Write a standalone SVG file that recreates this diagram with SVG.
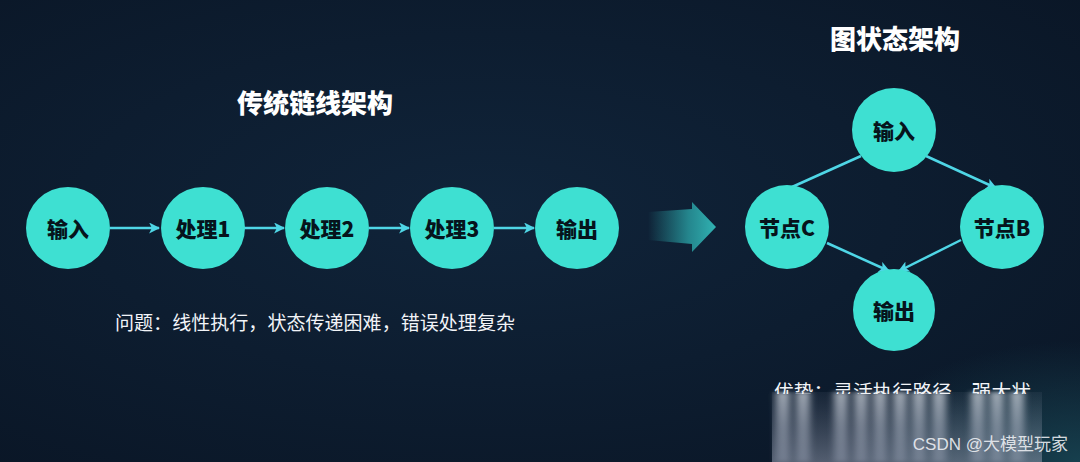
<svg xmlns="http://www.w3.org/2000/svg" width="1080" height="462" viewBox="0 0 1080 462">
<defs>
<radialGradient id="bg" cx="0.45" cy="0.45" r="0.75">
<stop offset="0" stop-color="#10243a"/>
<stop offset="1" stop-color="#0a1626"/>
</radialGradient>
<radialGradient id="glow" cx="1" cy="1" r="0.6">
<stop offset="0" stop-color="#1a4a58" stop-opacity="0.8"/>
<stop offset="1" stop-color="#1a4a58" stop-opacity="0"/>
</radialGradient>
<linearGradient id="bigArrow" x1="0" y1="0" x2="1" y2="0">
<stop offset="0" stop-color="#2aa0a4" stop-opacity="0"/>
<stop offset="0.6" stop-color="#2aa0a4" stop-opacity="0.8"/>
<stop offset="1" stop-color="#31b3b3"/>
</linearGradient>
<linearGradient id="smear" x1="0" y1="0" x2="0" y2="1">
<stop offset="0" stop-color="#e0e6ee" stop-opacity="0.9"/>
<stop offset="0.5" stop-color="#b4bccb" stop-opacity="0.7"/>
<stop offset="1" stop-color="#9aa3b6" stop-opacity="0.6"/>
</linearGradient>
<linearGradient id="haze" x1="0" y1="0" x2="0" y2="1">
<stop offset="0" stop-color="#7c8699" stop-opacity="0.1"/>
<stop offset="1" stop-color="#8e97aa" stop-opacity="0.55"/>
</linearGradient>
<filter id="blur" x="-20%" y="-10%" width="140%" height="120%"><feGaussianBlur stdDeviation="3.5 2"/></filter>
<clipPath id="cut"><rect x="760" y="370" width="300" height="24"/></clipPath>
<marker id="ah" viewBox="0 0 10 10" refX="9" refY="5" markerWidth="11" markerHeight="11" markerUnits="userSpaceOnUse" orient="auto">
<path d="M0,0 L10,5 L0,10 L2.5,5 z" fill="#4fd6e6"/>
</marker>
<style>
.node{fill:#3ee0d2}
.lbl{font-family:"Noto Sans CJK SC","Liberation Sans",sans-serif;font-weight:900;font-size:21px;fill:#06141c;text-anchor:middle;dominant-baseline:central}
.title{font-family:"Noto Sans CJK SC","Liberation Sans",sans-serif;font-weight:900;fill:#ffffff;text-anchor:middle}
.note{font-family:"Noto Sans CJK SC","Liberation Sans",sans-serif;font-size:19px;fill:#f2f4f8}
.edge{stroke:#4fd6e6;stroke-width:2.5;fill:none}
.streak{fill:url(#smear)}
</style>
</defs>
<rect width="1080" height="462" fill="url(#bg)"/>
<rect x="700" y="260" width="380" height="202" fill="url(#glow)"/>

<text class="title" x="315" y="113" font-size="26">传统链线架构</text>
<text class="title" x="895" y="49" font-size="26">图状态架构</text>

<g id="connectors">
<line class="edge" x1="110" y1="228" x2="159" y2="228" marker-end="url(#ah)"/>
<line class="edge" x1="244" y1="228" x2="284" y2="228" marker-end="url(#ah)"/>
<line class="edge" x1="369" y1="228" x2="409" y2="228" marker-end="url(#ah)"/>
<line class="edge" x1="494" y1="228" x2="534" y2="228" marker-end="url(#ah)"/>
<line class="edge" x1="861" y1="156" x2="792" y2="187"/>
<line class="edge" x1="926" y1="156" x2="996" y2="188" marker-end="url(#ah)"/>
<line class="edge" x1="827" y1="243" x2="889" y2="271" marker-end="url(#ah)"/>
<line class="edge" x1="961" y1="240" x2="899" y2="271" marker-end="url(#ah)"/>
</g>

<g id="big-arrow">
<path d="M648,212 L692,209 L692,202 L716,227 L692,252 L692,244 L648,240 z" fill="url(#bigArrow)"/>
</g>

<g id="n-in1"><ellipse class="node" cx="68" cy="228" rx="42" ry="41"/><text class="lbl" x="68" y="228">输入</text></g>
<g id="n-p1"><ellipse class="node" cx="203" cy="228" rx="42" ry="41"/><text class="lbl" x="203" y="228">处理1</text></g>
<g id="n-p2"><ellipse class="node" cx="327" cy="228" rx="42" ry="41"/><text class="lbl" x="327" y="228">处理2</text></g>
<g id="n-p3"><ellipse class="node" cx="452" cy="228" rx="42" ry="41"/><text class="lbl" x="452" y="228">处理3</text></g>
<g id="n-out1"><ellipse class="node" cx="577" cy="228" rx="42" ry="41"/><text class="lbl" x="577" y="228">输出</text></g>

<g id="g-in"><circle class="node" cx="894" cy="130" r="42"/><text class="lbl" x="894" y="130">输入</text></g>
<g id="g-c"><circle class="node" cx="787" cy="227" r="42"/><text class="lbl" x="787" y="227">节点C</text></g>
<g id="g-b"><circle class="node" cx="1002" cy="227" r="42"/><text class="lbl" x="1002" y="227">节点B</text></g>
<g id="g-out"><circle class="node" cx="894" cy="310" r="41"/><text class="lbl" x="894" y="310">输出</text></g>

<text class="note" x="115" y="330" textLength="400" lengthAdjust="spacingAndGlyphs">问题：线性执行，状态传递困难，错误处理复杂</text>

<g id="cut-note">
<rect x="772" y="392" width="270" height="70" fill="url(#haze)"/>
<g filter="url(#blur)" opacity="0.75">
<rect class="streak" x="776" y="392" width="14" height="70"/>
<rect class="streak" x="796" y="392" width="14" height="70"/>
<rect class="streak" x="834" y="392" width="14" height="70"/>
<rect class="streak" x="854" y="392" width="14" height="70"/>
<rect class="streak" x="873" y="392" width="14" height="70"/>
<rect class="streak" x="893" y="392" width="14" height="70"/>
<rect class="streak" x="912" y="392" width="14" height="70"/>
<rect class="streak" x="932" y="392" width="14" height="70"/>
<rect class="streak" x="971" y="392" width="14" height="70"/>
<rect class="streak" x="990" y="392" width="14" height="70"/>
<rect class="streak" x="1010" y="392" width="14" height="70"/>
</g>
<text class="note" x="774" y="399" clip-path="url(#cut)" textLength="257" lengthAdjust="spacingAndGlyphs">优势：灵活执行路径，强大状</text>
</g>

<text x="1068" y="450" font-family="'Liberation Sans','Noto Sans CJK SC',sans-serif" font-size="17" fill="#eef0f4" fill-opacity="0.9" text-anchor="end">CSDN @大模型玩家</text>
</svg>
